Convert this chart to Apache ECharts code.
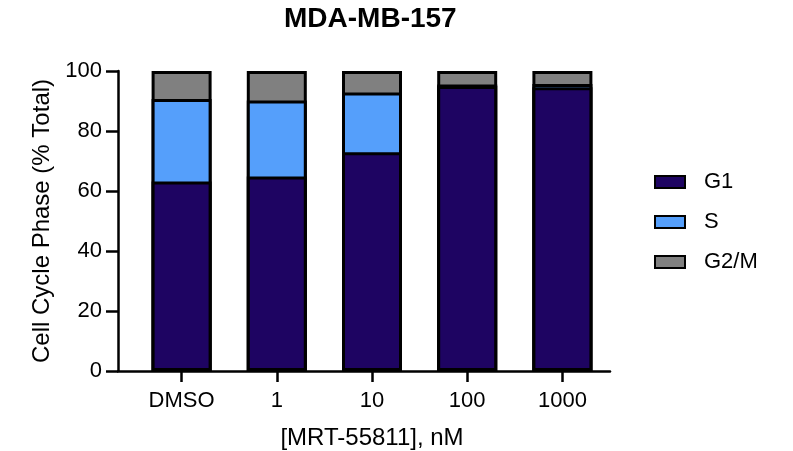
<!DOCTYPE html>
<html>
<head>
<meta charset="utf-8">
<script src="https://cdn.jsdelivr.net/npm/echarts@6/dist/echarts.min.js"></script>
<style>html,body{margin:0;padding:0;background:#fff;}#c{width:793px;height:451px;}</style>
</head>
<body>
<div id="c"></div>
<script>
const title = 'MDA-MB-157';
const categories = ['DMSO', '1', '10', '100', '1000'];
const seriesNames = ['G1', 'S', 'G2/M'];
const g1 = [63.2, 64.8, 72.9, 95.0, 94.6];
const s = [27.5, 25.4, 19.9, 0.5, 1.1];
const g2m = [9.3, 9.8, 7.2, 4.5, 4.3];
const yTicks = [0, 20, 40, 60, 80, 100];
const xName = '[MRT-55811], nM';
const yName = 'Cell Cycle Phase (% Total)';

const colors = ['#1e0462', '#559ffb', '#808080'];
const font = '"Liberation Sans", Arial, Helvetica, sans-serif';
const chart = echarts.init(document.getElementById('c'), null, {renderer: 'canvas'});
const values = [g1, s, g2m];

// cumulative tops so segments are drawn as overlapping bars (single clean seams)
const cumulative = values.map((arr, i) =>
  arr.map((_, j) => values.slice(0, i + 1).reduce((acc, a) => acc + a[j], 0))
);

const series = seriesNames.map((n, i) => ({
  name: n, type: 'bar', xAxisIndex: 0, yAxisIndex: 0,
  barWidth: 60, barGap: '-100%', z: 10 - i,
  data: cumulative[i],
  itemStyle: {color: colors[i], borderColor: '#000', borderWidth: 3}
})).reverse();

chart.setOption({
  animation: false,
  backgroundColor: '#fff',
  textStyle: {fontFamily: font},
  title: {
    text: title, left: 284, top: 5, padding: 0,
    textStyle: {fontFamily: font, fontSize: 28, fontWeight: 'bold', color: '#000'}
  },
  legend: {
    orient: 'vertical', left: 654, top: 171, padding: 0, itemWidth: 30, itemHeight: 12, itemGap: 18,
    icon: 'rect',
    data: seriesNames,
    textStyle: {fontFamily: font, fontSize: 22, color: '#000', padding: [0, 0, 0, 14]}
  },
  grid: [
    {left: 134, width: 476, top: 71, height: 300, containLabel: false, outerBoundsMode: 'none'},
    {left: 118, width: 492, top: 71, height: 300, containLabel: false, outerBoundsMode: 'none'}
  ],
  xAxis: [
    {
      type: 'category', gridIndex: 0, data: categories,
      axisLine: {show: false},
      axisTick: {show: true, alignWithLabel: true, length: 11, lineStyle: {color: '#000', width: 2.5}},
      axisLabel: {fontFamily: font, fontSize: 22, color: '#000', margin: 19},
      name: xName, nameLocation: 'middle', nameGap: 55,
      nameTextStyle: {fontFamily: font, fontSize: 24, color: '#000'}
    },
    {
      type: 'value', gridIndex: 1, min: 0, max: 1,
      axisLine: {show: true, lineStyle: {color: '#000', width: 2.5}},
      axisTick: {show: false}, axisLabel: {show: false}, splitLine: {show: false}
    }
  ],
  yAxis: [
    {type: 'value', gridIndex: 0, min: 0, max: 100, show: false},
    {
      type: 'value', gridIndex: 1, min: yTicks[0], max: yTicks[yTicks.length - 1], interval: 20,
      axisLine: {show: true, lineStyle: {color: '#000', width: 2.5}},
      axisTick: {show: true, length: 12, lineStyle: {color: '#000', width: 2.5}},
      axisLabel: {fontFamily: font, fontSize: 22, color: '#000', margin: 16},
      splitLine: {show: false},
      name: yName, nameLocation: 'middle', nameGap: 64,
      nameTextStyle: {fontFamily: font, fontSize: 24, color: '#000'}
    }
  ],
  series: series
});
</script>
</body>
</html>
